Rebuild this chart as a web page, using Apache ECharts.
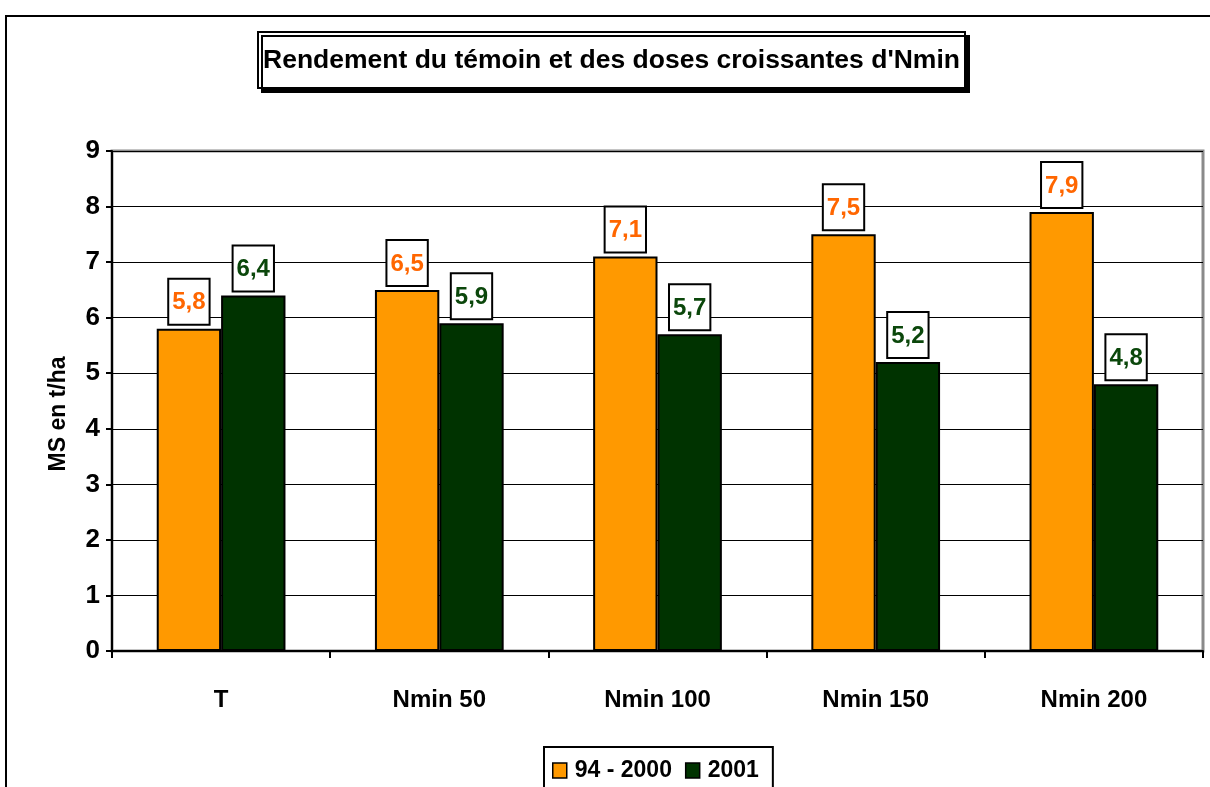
<!DOCTYPE html>
<html>
<head>
<meta charset="utf-8">
<script src="https://cdn.jsdelivr.net/npm/echarts@6/dist/echarts.min.js"></script>
<style>html,body{margin:0;padding:0;background:#fff;}#c{width:1210px;height:787px;}</style>
</head>
<body>
<div id="c"></div>
<script>
const categories = ['T', 'Nmin 50', 'Nmin 100', 'Nmin 150', 'Nmin 200'];
const series9400 = [5.8, 6.5, 7.1, 7.5, 7.9];
const series2001 = [6.4, 5.9, 5.7, 5.2, 4.8];
const seriesNames = ['94 - 2000', '2001'];
const yTicks = [0, 1, 2, 3, 4, 5, 6, 7, 8, 9];
const titleText = "Rendement du témoin et des doses croissantes d'Nmin";
const yName = 'MS en t/ha';

const FONT = "'Liberation Sans', Arial, sans-serif";
const chart = echarts.init(document.getElementById('c'), null, {renderer: 'canvas'});

function lbl(color) {
  return {
    show: true, position: 'top', distance: 5,
    formatter: p => String(p.value).replace('.', ','),
    color: color, fontFamily: FONT, fontWeight: 'bold', fontSize: 24,
    backgroundColor: '#fff', borderColor: '#000', borderWidth: 2,
    padding: [11, 3, 9, 3]
  };
}

chart.setOption({
  animation: false,
  backgroundColor: '#fff',
  graphic: [{
    type: 'rect', shape: {x: 6, y: 16, width: 1400, height: 1000},
    style: {fill: 'none', stroke: '#000', lineWidth: 2}, silent: true, z: -1
  }],
  title: {
    text: titleText, left: 258, top: 32,
    padding: [15, 5, 14, 5],
    borderColor: '#000', borderWidth: 2, backgroundColor: '#fff',
    shadowColor: '#000', shadowOffsetX: 4, shadowOffsetY: 4, shadowBlur: 0,
    textStyle: {fontFamily: FONT, fontWeight: 'bold', fontSize: 26.5, color: '#000'}
  },
  legend: {
    data: seriesNames, left: 544, top: 747,
    padding: [12, 14, 20, 8], itemGap: 13,
    borderColor: '#000', borderWidth: 2, backgroundColor: '#fff',
    itemWidth: 14, itemHeight: 15,
    itemStyle: {borderColor: '#000', borderWidth: 1.5},
    textStyle: {fontFamily: FONT, fontWeight: 'bold', fontSize: 23, color: '#000', padding: [0, 0, 0, 3]},
    icon: 'rect'
  },
  grid: {
    left: 112, right: 7, top: 151, bottom: 136,
    show: true, borderColor: '#8a8a8a', borderWidth: 3, backgroundColor: '#fff'
  },
  xAxis: {
    type: 'category', data: categories,
    axisLine: {lineStyle: {color: '#000', width: 2}},
    axisTick: {show: true, length: 7, lineStyle: {color: '#000', width: 2}},
    axisLabel: {margin: 37, fontFamily: FONT, fontWeight: 'bold', fontSize: 24, color: '#000'}
  },
  yAxis: {
    type: 'value', min: 0, max: 9, interval: 1,
    name: yName, nameLocation: 'middle', nameRotate: 90, nameGap: 42,
    nameTextStyle: {fontFamily: FONT, fontWeight: 'bold', fontSize: 23, color: '#000', padding: [0, 26, 0, 0]},
    axisLine: {show: true, lineStyle: {color: '#000', width: 2}},
    axisTick: {show: true, length: 6, lineStyle: {color: '#000', width: 2}},
    axisLabel: {margin: 12, fontFamily: FONT, fontWeight: 'bold', fontSize: 26, color: '#000',
      formatter: v => yTicks.includes(v) ? String(v) : ''},
    splitLine: {show: true, lineStyle: {color: '#000', width: 1.2}}
  },
  series: [
    {
      name: seriesNames[0], type: 'bar', data: series9400,
      barGap: '0%', barCategoryGap: '41%',
      itemStyle: {color: '#FF9900', borderColor: '#000', borderWidth: 2},
      label: lbl('#FF6600')
    },
    {
      name: seriesNames[1], type: 'bar', data: series2001,
      itemStyle: {color: '#003300', borderColor: '#000', borderWidth: 2},
      label: lbl('#0b470b')
    }
  ]
});
</script>
</body>
</html>
